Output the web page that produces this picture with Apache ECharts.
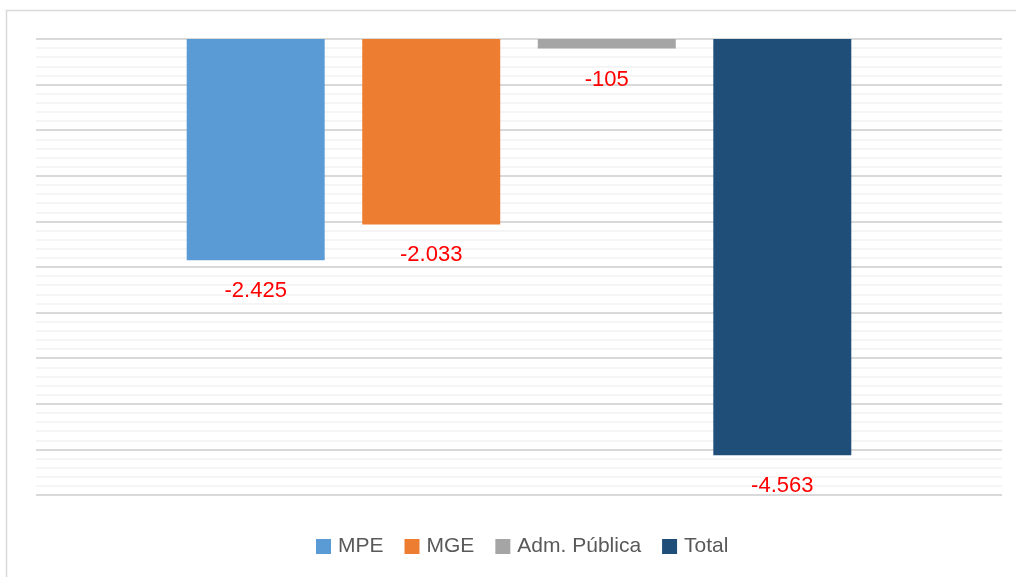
<!DOCTYPE html>
<html>
<head>
<meta charset="utf-8">
<script src="https://cdn.jsdelivr.net/npm/echarts@6/dist/echarts.min.js"></script>
<style>
html,body{margin:0;padding:0;background:#fff;}
#chart{width:1016px;height:577px;}
</style>
</head>
<body>
<div id="chart"></div>
<script>
const categories = ['MPE', 'MGE', 'Adm. Pública', 'Total'];
const values = [-2425, -2033, -105, -4563];
const colors = ['#5B9BD5', '#ED7D31', '#A5A5A5', '#1F4E79'];

function fmt(v) {
  const s = Math.abs(v).toString().replace(/\B(?=(\d{3})+(?!\d))/g, '.');
  return (v < 0 ? '-' : '') + s;
}

const chart = echarts.init(document.getElementById('chart'), null, {renderer: 'canvas'});
const series = categories.map((name, i) => ({
  name: name,
  type: 'bar',
  data: [values[i]],
  barWidth: 138,
  barGap: '27.2%',
  itemStyle: {color: colors[i]},
  label: {
    show: true,
    position: 'bottom',
    distance: 20,
    color: '#FF0000',
    fontSize: 22,
    fontFamily: 'Liberation Sans',
    formatter: p => fmt(p.value)
  }
}));

chart.setOption({
  animation: false,
  backgroundColor: '#fff',
  graphic: [{
    type: 'rect',
    shape: {x: 6.5, y: 10.5, width: 1030, height: 600},
    style: {fill: 'none', stroke: '#d9d9d9', lineWidth: 1.5},
    silent: true
  }],
  grid: {left: 36, right: 14, top: 39, bottom: 82},
  legend: {
    data: categories,
    top: 536,
    left: 316,
    padding: 0,
    itemWidth: 15,
    itemHeight: 15,
    itemGap: 21,
    icon: 'rect',
    textStyle: {fontSize: 21, color: '#595959', fontFamily: 'Liberation Sans', padding: [0, 0, 0, 2]}
  },
  xAxis: {
    type: 'category',
    data: [''],
    axisLine: {show: false},
    axisTick: {show: false},
    axisLabel: {show: false}
  },
  yAxis: {
    type: 'value',
    min: -5000,
    max: 0,
    interval: 500,
    axisLine: {show: false},
    axisTick: {show: false},
    axisLabel: {show: false},
    splitLine: {show: true, lineStyle: {color: '#d9d9d9', width: 2}},
    minorTick: {show: false, splitNumber: 5},
    minorSplitLine: {show: true, lineStyle: {color: '#f2f2f2', width: 1.5}}
  },
  series: series
});
</script>
</body>
</html>
